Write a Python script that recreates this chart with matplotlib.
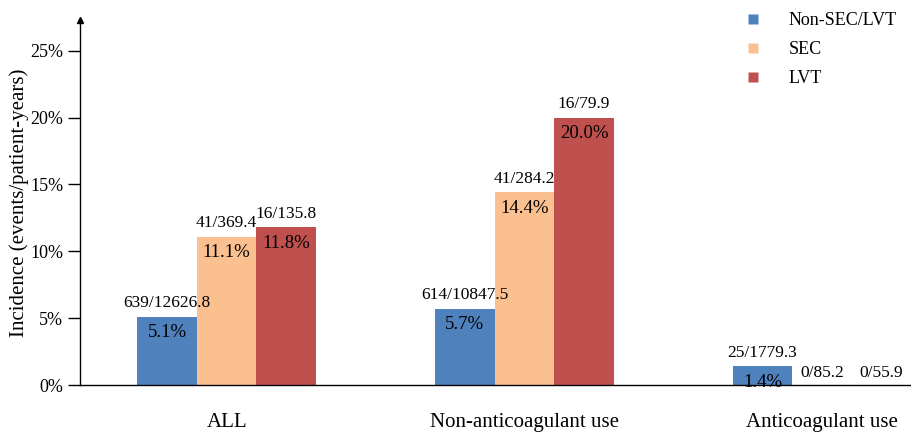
import matplotlib
matplotlib.use("Agg")
import matplotlib.pyplot as plt
import numpy as np
from matplotlib.lines import Line2D

categories = ["ALL", "Non-anticoagulant use", "Anticoagulant use"]
series = ["Non-SEC/LVT", "SEC", "LVT"]
colors = ["#4F81BD", "#FAC090", "#C0504D"]
non_sec = [5.1, 5.7, 1.4]
sec = [11.1, 14.4, 0.0]
lvt = [11.8, 20.0, 0.0]
events_non_sec = ["639/12626.8", "614/10847.5", "25/1779.3"]
events_sec = ["41/369.4", "41/284.2", "0/85.2"]
events_lvt = ["16/135.8", "16/79.9", "0/55.9"]
yticks = [0, 5, 10, 15, 20, 25]

plt.rcParams['font.family'] = ['Liberation Serif', 'DejaVu Serif']

fig = plt.figure(figsize=(9.11, 4.33), dpi=100)
ax = fig.add_axes([80/911, 1-385/433, 1-80/911, (385-20)/433])

x = np.arange(len(categories))
w = 0.2
vals = [non_sec, sec, lvt]
labs = [events_non_sec, events_sec, events_lvt]
for j in range(3):
    xs = x + (j-1)*w
    ax.bar(xs, vals[j], width=w, color=colors[j], edgecolor='none', zorder=2)
    for k in range(len(categories)):
        v = vals[j][k]
        if v > 0:
            ax.annotate(labs[j][k], (xs[k], v), xytext=(0, 4), textcoords='offset points',
                        ha='center', va='bottom', fontsize=12.5)
            ax.annotate(f"{v:.1f}%", (xs[k], v), xytext=(0, -5.5), textcoords='offset points',
                        ha='center', va='top', fontsize=13.5)
        else:
            ax.annotate(labs[j][k], (xs[k], v), xytext=(0, 3), textcoords='offset points',
                        ha='center', va='bottom', fontsize=12.5)

ax.set_xlim(-0.493, 2.299)
ax.set_ylim(0, 27.3)
ax.set_yticks(yticks)
ax.set_yticklabels([f"{t}%" for t in yticks], fontsize=13)
ax.tick_params(axis='y', direction='out', length=9, width=1, pad=3)
ax.set_xticks(x)
ax.set_xticklabels(categories, fontsize=15)
ax.tick_params(axis='x', length=0, pad=20)
ax.set_ylabel("Incidence (events/patient-years)", fontsize=15, labelpad=1)
for s in ['top', 'right']:
    ax.spines[s].set_visible(False)
ax.spines['left'].set_linewidth(1)
ax.spines['bottom'].set_linewidth(1)
ax.plot([0], [1], marker='^', color='black', markersize=4, transform=ax.transAxes, clip_on=False)

handles = [Line2D([0], [0], marker='s', color='none', markerfacecolor=c, markeredgecolor='none', markersize=7)
           for c in colors]
fig.legend(handles, series, loc='upper left', bbox_to_anchor=(724/911, 1.01), frameon=False,
           fontsize=13, handlelength=1.4, handletextpad=1.3, labelspacing=0.68)

fig.savefig("out.png", dpi=100)
